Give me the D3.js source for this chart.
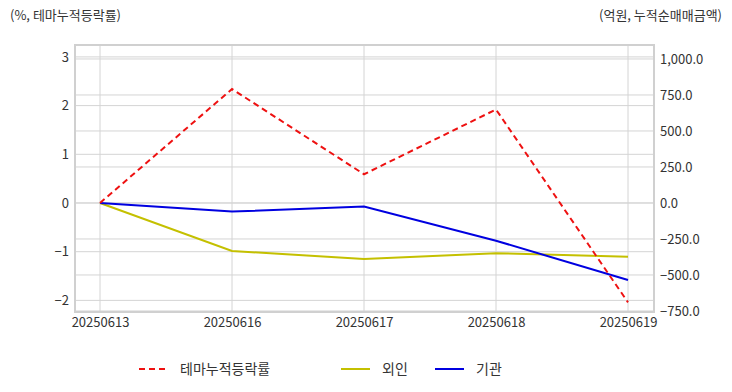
<!DOCTYPE html>
<html><head><meta charset="utf-8">
<script src="https://cdn.jsdelivr.net/npm/d3@7"></script>
<style>
body{margin:0;background:#fff;}
text{font-family:"Noto Sans CJK KR","Noto Sans",sans-serif;fill:#333;}
</style></head>
<body><svg id="c" width="732" height="392"></svg>
<script>
const categories = ["20250613","20250616","20250617","20250618","20250619"];
const themeRate = [0, 2.34, 0.59, 1.92, -2.04];
const foreign = [0, -333, -389, -349, -373];
const institution = [0, -60, -25, -262, -535];
const leftTicks = [-2, -1, 0, 1, 2, 3];
const rightTicks = [-750, -500, -250, 0, 250, 500, 750, 1000];
const leftTitle = "(%, 테마누적등락률)";
const rightTitle = "(억원, 누적순매매금액)";
const legendNames = ["테마누적등락률", "외인", "기관"];

const svg = d3.select("#c");
const L = 74, R = 655, T = 44, B = 313;
const x = d3.scalePoint().domain(categories).range([100, 628]);
const yL = d3.scaleLinear().domain([-2.259, 3.265]).range([B, T]);
const yR = d3.scaleLinear().domain([-764, 1104]).range([B, T]);

const grid = svg.append("g");
leftTicks.forEach(t => grid.append("line").attr("x1", L).attr("x2", R).attr("y1", yL(t)).attr("y2", yL(t)).attr("stroke", "#d4d4d4"));
rightTicks.forEach(t => grid.append("line").attr("x1", L).attr("x2", R).attr("y1", yR(t)).attr("y2", yR(t)).attr("stroke", "#d4d4d4"));
categories.forEach(c => grid.append("line").attr("x1", x(c)).attr("x2", x(c)).attr("y1", T).attr("y2", B).attr("stroke", "#d4d4d4"));
svg.append("rect").attr("x", L + 1).attr("y", T + 1).attr("width", R - L - 2).attr("height", B - T - 2)
  .attr("fill", "none").attr("stroke", "#d0d0d0").attr("stroke-width", 2);

const axL = d3.axisLeft(yL).tickValues(leftTicks).tickSize(0).tickPadding(5).tickFormat(d3.format("d"));
const gL = svg.append("g").attr("transform", `translate(${L},0)`).call(axL);
const axR = d3.axisRight(yR).tickValues(rightTicks).tickSize(0).tickPadding(5).tickFormat(d3.format(",.1f"));
const gR = svg.append("g").attr("transform", `translate(${R},0)`).call(axR);
const axB = d3.axisBottom(x).tickSize(0).tickPadding(5);
const gB = svg.append("g").attr("transform", `translate(0,${B})`).call(axB);
[gL, gR, gB].forEach(g => { g.select(".domain").remove(); g.selectAll("text").style("font-size", "13px").style("fill", "#333").style("font-family", '"Noto Sans CJK KR",sans-serif'); });

const lineL = d3.line().x((d, i) => x(categories[i])).y(d => yL(d));
const lineR = d3.line().x((d, i) => x(categories[i])).y(d => yR(d));
svg.append("path").attr("d", lineR(foreign)).attr("fill", "none").attr("stroke", "#c4c000").attr("stroke-width", 2);
svg.append("path").attr("d", lineR(institution)).attr("fill", "none").attr("stroke", "#0000e0").attr("stroke-width", 2);
svg.append("path").attr("d", lineL(themeRate)).attr("fill", "none").attr("stroke", "#ee1111").attr("stroke-width", 2).attr("stroke-dasharray", "6,4");

svg.append("text").attr("x", 10).attr("y", 20).style("font-size", "13px").text(leftTitle);
svg.append("text").attr("x", 722).attr("y", 20).attr("text-anchor", "end").style("font-size", "13px").text(rightTitle);

const leg = [
  {name: legendNames[0], color: "#ee1111", dash: "6,4", x1: 139},
  {name: legendNames[1], color: "#c4c000", dash: null, x1: 341},
  {name: legendNames[2], color: "#0000e0", dash: null, x1: 435}
];
leg.forEach(l => {
  svg.append("line").attr("x1", l.x1).attr("x2", l.x1 + 29).attr("y1", 369).attr("y2", 369)
    .attr("stroke", l.color).attr("stroke-width", 2).attr("stroke-dasharray", l.dash);
  svg.append("text").attr("x", l.x1 + 41).attr("y", 374).style("font-size", "14px").text(l.name);
});
</script></body></html>
